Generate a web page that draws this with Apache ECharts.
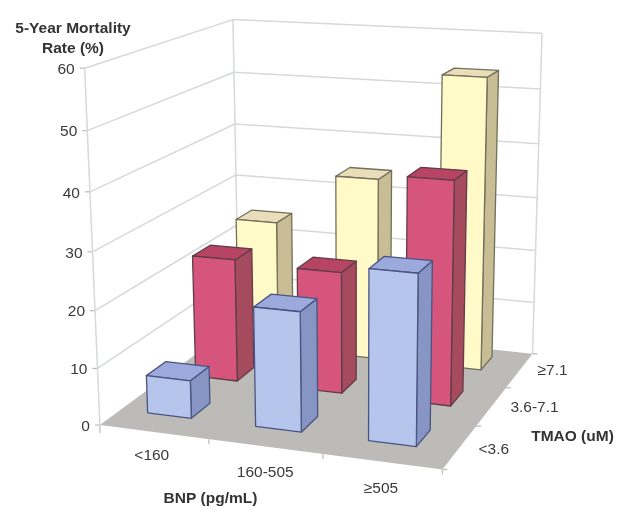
<!DOCTYPE html>
<html><head><meta charset="utf-8">
<style>html,body{margin:0;padding:0;background:#fff}#c{width:624px;height:523px}</style>
<script src="https://cdn.jsdelivr.net/npm/echarts@6/dist/echarts.min.js"></script>
</head><body><div id="c"></div>
<script>
// ---- data ----
const bnpLabels = ['<160', '160-505', '≥505'];
const tmaoLabels = ['<3.6', '3.6-7.1', '≥7.1'];
const yTicks = [0, 10, 20, 30, 40, 50, 60];
const mortalityLowTmao = [6.7, 20.8, 29.1];
const mortalityMidTmao = [22.5, 22, 39.7];
const mortalityHighTmao = [24.4, 34.1, 53.7];

// ---- camera: reference points of the plot box (u along BNP, v along TMAO, w height) ----
const box = [
  [0,0,0, 99,422],[0,0,1, 85,69],
  [1,0,0, 443,472],
  [0,1,0, 239.5,326],[0,1,1, 232.7,18.3],
  [1,1,0, 532,351],[1,1,1, 542,34]
];
function solve(A,b){const n=b.length;const M=A.map((r,i)=>[...r,b[i]]);
  for(let i=0;i<n;i++){let p=i;for(let r=i+1;r<n;r++)if(Math.abs(M[r][i])>Math.abs(M[p][i]))p=r;
    [M[i],M[p]]=[M[p],M[i]];
    for(let r=0;r<n;r++){if(r===i)continue;const f=M[r][i]/M[i][i];for(let c=i;c<=n;c++)M[r][c]-=f*M[i][c];}}
  return M.map((r,i)=>r[n]/r[i]);}
const cam=(function(){
  const rows=[],rhs=[];
  box.forEach(([u,v,w,x,y])=>{
    rows.push([u,v,w,1,0,0,0,0,-x*u,-x*v,-x*w]);rhs.push(x);
    rows.push([0,0,0,0,u,v,w,1,-y*u,-y*v,-y*w]);rhs.push(y);
  });
  const n=11,A=Array.from({length:n},()=>Array(n).fill(0)),b=Array(n).fill(0);
  rows.forEach((r,k)=>{for(let i=0;i<n;i++){b[i]+=r[i]*rhs[k];for(let j=0;j<n;j++)A[i][j]+=r[i]*r[j];}});
  return solve(A,b);
})();
function project(u,v,w){
  const d=cam[8]*u+cam[9]*v+cam[10]*w+1;
  return [(cam[0]*u+cam[1]*v+cam[2]*w+cam[3])/d,(cam[4]*u+cam[5]*v+cam[6]*w+cam[7])/d];
}

const barFracU = 0.41, barFracV = 0.39, barShiftU = -0.014, barShiftV = 0.03;
const palette = [
  {front:'#B6C5EC',side:'#8795C4',top:'#9CA9DC',edge:'#4A5480'},
  {front:'#D5557C',side:'#A64A5E',top:'#B84464',edge:'#613C4A'},
  {front:'#FFFAC8',side:'#C8BD95',top:'#E9DEB9',edge:'#72705A'}
];
const rows = [mortalityLowTmao, mortalityMidTmao, mortalityHighTmao];
const barData = [];
for (let t = rows.length - 1; t >= 0; t--) rows[t].forEach((val, b) => barData.push([b, val, t]));

const font = '15.5px "Liberation Sans", Arial, sans-serif';
const bold = 'bold 15.5px "Liberation Sans", Arial, sans-serif';
const tickColor = '#3a3a3a', wallColor = '#D5D8DC';

function toUnit(params, api, cat, val) {
  const cs = params.coordSys, p = api.coord([cat, val]);
  return { u: (p[0] - cs.x) / cs.width, w: (cs.y + cs.height - p[1]) / cs.height };
}
function line(a, b, color, width) {
  return {type:'line',shape:{x1:a[0],y1:a[1],x2:b[0],y2:b[1]},style:{stroke:color,lineWidth:width,fill:null}};
}
function text(str, x, y, align, f) {
  return {type:'text',style:{text:str,x:x,y:y,align:align,verticalAlign:'middle',font:f||font,fill:tickColor}};
}
const bnpLabelOffset = [[-2,24],[0,26],[-1,27]];
const tmaoLabelOffset = [[34,3],[43,1],[33,0]];
function renderFrame(params, api) {
  const ch = [];
  const top = toUnit(params, api, 0, 60).w;
  ch.push({type:'polygon',shape:{points:[project(0,0,0),project(1,0,0),project(1,1,0),project(0,1,0)]},style:{fill:'#BDBBB7'}});
  yTicks.forEach(t => {
    const w = toUnit(params, api, 0, t).w;
    const a = project(0,0,w), b = project(0,1,w), c = project(1,1,w);
    if (t > 0) { ch.push(line(a,b,wallColor,1.5)); ch.push(line(b,c,wallColor,1.5)); }
    ch.push(line([a[0]-5,a[1]],a,'#B8BBBF',1.2));
    ch.push(text(String(t), a[0]-10, a[1]+1.5, 'right'));
  });
  [[0,0],[0,1],[1,1]].forEach(([u,v]) => ch.push(line(project(u,v,0),project(u,v,top),wallColor,1.5)));
  [0,1,2,3].forEach(i => {
    const a = project(i/3,0,0);
    ch.push(line(a,[a[0],a[1]+(i===0?8:5)],'#B8BBBF',1.2));
    const d = project(1,i/3,0);
    ch.push(line(d,[d[0]+5,d[1]],'#B8BBBF',1.2));
  });
  bnpLabels.forEach((s,i) => { const p = project((i+0.5)/3,0,0); ch.push(text(s, p[0]+bnpLabelOffset[i][0], p[1]+bnpLabelOffset[i][1], 'center')); });
  tmaoLabels.forEach((s,i) => { const p = project(1,(i+0.5)/3,0); ch.push(text(s, p[0]+tmaoLabelOffset[i][0], p[1]+tmaoLabelOffset[i][1], 'center')); });
  return {type:'group',children:ch};
}
function renderBar(params, api) {
  const b = api.value(0), val = api.value(1), t = api.value(2);
  const cell = api.size([1,0])[0] / params.coordSys.width;
  const m = toUnit(params, api, b, val);
  const hu = cell*barFracU/2, hv = barFracV/3/2, vc = (t+0.5)/3 + barShiftV, uc = m.u + barShiftU;
  const u0=uc-hu,u1=uc+hu,v0=vc-hv,v1=vc+hv,w=m.w;
  const col = palette[t];
  const st = f => ({fill:f,stroke:col.edge,lineWidth:1.3,lineJoin:'round'});
  return {type:'group',children:[
    {type:'polygon',shape:{points:[project(u1,v0,0),project(u1,v1,0),project(u1,v1,w),project(u1,v0,w)]},style:st(col.side)},
    {type:'polygon',shape:{points:[project(u0,v0,w),project(u1,v0,w),project(u1,v1,w),project(u0,v1,w)]},style:st(col.top)},
    {type:'polygon',shape:{points:[project(u0,v0,0),project(u1,v0,0),project(u1,v0,w),project(u0,v0,w)]},style:st(col.front)}
  ]};
}
const titleStyle = (s,x,y) => ({type:'text',z:10,style:{text:s,x:x,y:y,align:'center',verticalAlign:'middle',font:bold,fill:'#333'}});

const chart = echarts.init(document.getElementById('c'), null, {width:624,height:523});
chart.setOption({
  animation:false,
  backgroundColor:'#fff',
  grid:{left:0,right:0,top:0,bottom:0},
  xAxis:{type:'category',data:bnpLabels,show:false},
  yAxis:{type:'value',min:0,max:60,interval:10,show:false},
  graphic:[
    titleStyle('5-Year Mortality',73,29),
    titleStyle('Rate (%)',73,49),
    titleStyle('BNP (pg/mL)',210.5,499),
    titleStyle('TMAO (uM)',572.5,437)
  ],
  series:[
    {type:'custom',coordinateSystem:'cartesian2d',data:[[0,0]],renderItem:renderFrame,silent:true,z:1,clip:false},
    {type:'custom',coordinateSystem:'cartesian2d',data:barData,renderItem:renderBar,encode:{x:0,y:1},silent:true,z:2,clip:false}
  ]
});
</script></body></html>
